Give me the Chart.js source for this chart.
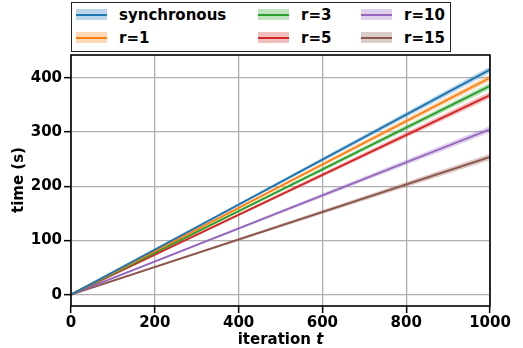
<!DOCTYPE html>
<html>
<head>
<meta charset="utf-8">
<script src="https://cdn.jsdelivr.net/npm/chart.js@4/dist/chart.umd.min.js"></script>
<style>
  html, body { margin:0; padding:0; background:#fff; }
  #wrap { position:relative; width:523px; height:348px; font-family:"DejaVu Sans", sans-serif; font-weight:bold; }
  canvas { position:absolute; left:0; top:0; }
  #legend { position:absolute; left:71px; top:2px; width:378px; height:48px; border:1.5px solid #222; background:#fff; }
  .item { position:absolute; height:20px; font-size:15px; line-height:20px; color:#000; }
  .handle { position:absolute; top:4px; width:31px; height:11px; }
  .handle span { position:absolute; left:0; top:4.5px; width:31px; height:2px; }
  .lab { position:absolute; left:43px; top:0; white-space:nowrap; }
  #xtitle { position:absolute; left:0; width:523px; top:330px; text-align:center; font-size:15px; padding-left:38px; box-sizing:border-box; }
  #ytitle { position:absolute; left:18px; top:180px; transform:translate(-50%,-50%) rotate(-90deg); font-size:15px; white-space:nowrap; }
</style>
</head>
<body>
<div id="wrap">
  <canvas id="c" width="523" height="348"></canvas>
  <div id="legend"></div>
  <div id="xtitle">iteration <i>t</i></div>
  <div id="ytitle">time (s)</div>
</div>
<script>
// ---- data ----
const seriesNames = ["synchronous", "r=1", "r=3", "r=5", "r=10", "r=15"];
const iterations = [0, 1000];
const timeSynchronous = [0, 415];
const timeR1 = [0, 400];
const timeR3 = [0, 385];
const timeR5 = [0, 368];
const timeR10 = [0, 305];
const timeR15 = [0, 254];
const bandHalfWidth = [0, 6];
const xTicks = [0, 200, 400, 600, 800, 1000];
const yTicks = [0, 100, 200, 300, 400];

const seriesValues = [timeSynchronous, timeR1, timeR3, timeR5, timeR10, timeR15];
const colors = ["#1f77b4", "#ff7f0e", "#2ca02c", "#d62728", "#9467bd", "#8c564b"];

function hexA(h, a) {
  const r = parseInt(h.slice(1,3),16), g = parseInt(h.slice(3,5),16), b = parseInt(h.slice(5,7),16);
  return `rgba(${r},${g},${b},${a})`;
}

const datasets = [];
seriesValues.forEach((vals, i) => {
  const base = datasets.length;
  datasets.push({
    label: seriesNames[i] + " upper",
    data: iterations.map((x, k) => ({x, y: vals[k] + bandHalfWidth[k]})),
    borderWidth: 0, pointRadius: 0, fill: false, borderColor: "transparent",
    order: 10
  });
  datasets.push({
    label: seriesNames[i] + " lower",
    data: iterations.map((x, k) => ({x, y: vals[k] - bandHalfWidth[k]})),
    borderWidth: 0, pointRadius: 0, borderColor: "transparent",
    fill: {target: base}, backgroundColor: hexA(colors[i], 0.3),
    order: 10
  });
  datasets.push({
    label: seriesNames[i],
    data: iterations.map((x, k) => ({x, y: vals[k]})),
    borderColor: colors[i], borderWidth: 1.9, pointRadius: 0, fill: false,
    order: 1
  });
});

const frame = {
  id: "frame",
  afterDatasetsDraw(chart) {
    const a = chart.chartArea, ctx = chart.ctx;
    ctx.save();
    ctx.strokeStyle = "#000";
    ctx.lineWidth = 1.6;
    ctx.strokeRect(a.left, a.top, a.right - a.left, a.bottom - a.top);
    ctx.restore();
  }
};

const tickFont = {family: "DejaVu Sans", size: 15, weight: "bold"};

new Chart(document.getElementById("c"), {
  type: "line",
  data: {datasets},
  options: {
    responsive: false,
    animation: false,
    layout: {padding: {top: 55, right: 33, left: 0, bottom: 0}},
    plugins: {legend: {display: false}, tooltip: {enabled: false}},
    scales: {
      x: {
        type: "linear", min: 0, max: 1000,
        afterBuildTicks: s => { s.ticks = xTicks.map(v => ({value: v})); },
        afterFit: s => { s.height = 42; },
        grid: {color: "#b0b0b0", lineWidth: 1.3, tickLength: 7, tickColor: "#000", tickWidth: 1.5},
        border: {display: false},
        ticks: {color: "#000", font: tickFont, padding: 1, maxRotation: 0, callback: v => String(v)}
      },
      y: {
        type: "linear", min: -21, max: 442,
        afterBuildTicks: s => { s.ticks = yTicks.map(v => ({value: v})); },
        afterFit: s => { s.width = 71; },
        grid: {color: "#b0b0b0", lineWidth: 1.3, tickLength: 7, tickColor: "#000", tickWidth: 1.5},
        border: {display: false},
        ticks: {color: "#000", font: tickFont, padding: 2, callback: v => String(v)}
      }
    }
  },
  plugins: [frame]
});

// HTML legend, column-major in 3 columns
const leg = document.getElementById("legend");
const colX = [4, 186, 289];
const rowY = [2, 25];
seriesNames.forEach((name, i) => {
  const col = Math.floor(i / 2), row = i % 2;
  const it = document.createElement("div");
  it.className = "item";
  it.style.left = colX[col] + "px";
  it.style.top = rowY[row] + "px";
  it.innerHTML = `<div class="handle" style="background:${hexA(colors[i],0.3)}"><span style="background:${colors[i]}"></span></div><div class="lab"></div>`;
  it.querySelector(".lab").textContent = name;
  leg.appendChild(it);
});
</script>
</body>
</html>
